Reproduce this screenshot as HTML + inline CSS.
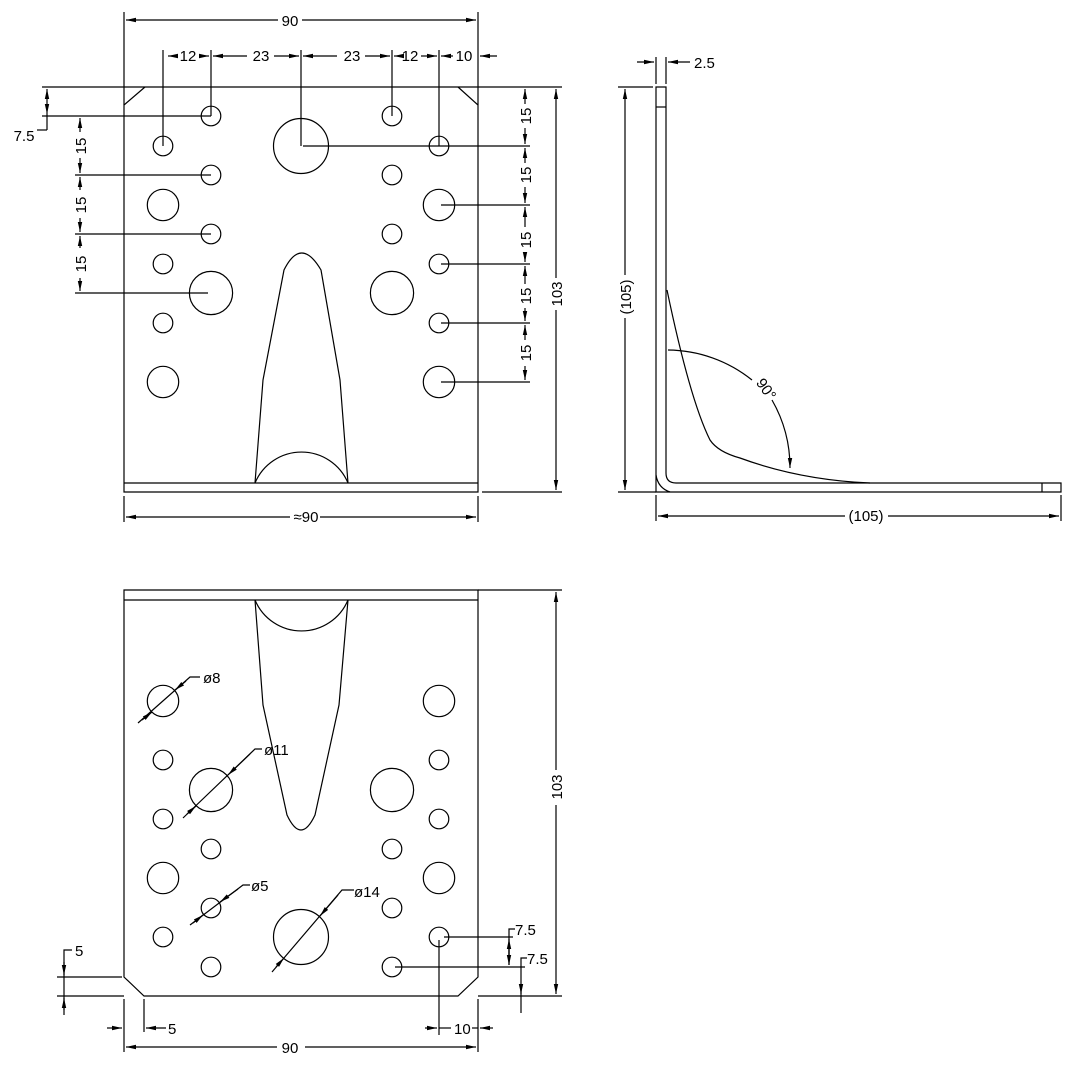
<!DOCTYPE html>
<html><head><meta charset="utf-8"><style>
html,body{margin:0;padding:0;background:#fff;}
svg{display:block;}
text{font-family:"Liberation Sans",sans-serif;font-size:15px;fill:#000;}
</style></head><body>
<svg width="1078" height="1072" viewBox="0 0 1078 1072" xmlns="http://www.w3.org/2000/svg">
<defs>
<marker id="a" viewBox="0 0 10 6" refX="10" refY="3" markerWidth="10" markerHeight="6" orient="auto-start-reverse" markerUnits="userSpaceOnUse"><path d="M0,0.8 L10,3 L0,5.2z" fill="#000"/></marker>
</defs>
<g fill="none" stroke="#000" stroke-width="1.2">
<!-- ===== TOP VIEW ===== -->
<line x1="42" y1="87" x2="562" y2="87"/>
<path d="M145,87 L124,105 V492 H478 V105 L458,87"/>
<line x1="124" y1="483" x2="478" y2="483"/>
<path d="M255,483 L263,380 L284,270 Q301,236 321,270 L340,380 L348,483"/>
<path d="M255,483 A50.4,50.4 0 0 1 348,483"/>
<g>
<circle cx="163" cy="146" r="9.8"/><circle cx="163" cy="205" r="15.7"/><circle cx="163" cy="264" r="9.8"/><circle cx="163" cy="323" r="9.8"/><circle cx="163" cy="382" r="15.7"/>
<circle cx="439" cy="146" r="9.8"/><circle cx="439" cy="205" r="15.7"/><circle cx="439" cy="264" r="9.8"/><circle cx="439" cy="323" r="9.8"/><circle cx="439" cy="382" r="15.7"/>
<circle cx="211" cy="116" r="9.8"/><circle cx="211" cy="175" r="9.8"/><circle cx="211" cy="234" r="9.8"/><circle cx="211" cy="293" r="21.6"/>
<circle cx="392" cy="116" r="9.8"/><circle cx="392" cy="175" r="9.8"/><circle cx="392" cy="234" r="9.8"/><circle cx="392" cy="293" r="21.6"/>
<circle cx="301" cy="146" r="27.5"/>
</g>
<line x1="124" y1="12" x2="124" y2="105"/><line x1="478" y1="12" x2="478" y2="105"/>
<line x1="126" y1="20" x2="278" y2="20" marker-start="url(#a)"/><line x1="302" y1="20" x2="476" y2="20" marker-end="url(#a)"/>
<line x1="163" y1="50" x2="163" y2="146"/><line x1="211" y1="50" x2="211" y2="116"/><line x1="301" y1="50" x2="301" y2="146"/><line x1="392" y1="50" x2="392" y2="116"/><line x1="439" y1="50" x2="439" y2="146"/>
<line x1="168" y1="56" x2="177" y2="56" marker-start="url(#a)"/><line x1="199" y1="56" x2="209" y2="56" marker-end="url(#a)"/>
<line x1="213" y1="56" x2="247" y2="56" marker-start="url(#a)"/><line x1="274" y1="56" x2="299" y2="56" marker-end="url(#a)"/>
<line x1="303" y1="56" x2="337" y2="56" marker-start="url(#a)"/><line x1="365" y1="56" x2="390" y2="56" marker-end="url(#a)"/>
<line x1="394" y1="56" x2="400" y2="56" marker-start="url(#a)"/><line x1="421" y1="56" x2="437" y2="56" marker-end="url(#a)"/>
<line x1="441" y1="56" x2="453" y2="56" marker-start="url(#a)"/><line x1="497" y1="56" x2="480" y2="56" marker-end="url(#a)"/>
<line x1="42" y1="116" x2="211" y2="116"/>
<line x1="47" y1="89" x2="47" y2="114" marker-start="url(#a)" marker-end="url(#a)"/>
<line x1="47" y1="114" x2="47" y2="130"/><line x1="37" y1="130" x2="47" y2="130"/>
<line x1="75" y1="175" x2="211" y2="175"/><line x1="75" y1="234" x2="211" y2="234"/><line x1="75" y1="293" x2="208" y2="293"/>
<line x1="80" y1="118" x2="80" y2="132" marker-start="url(#a)"/><line x1="80" y1="158" x2="80" y2="173" marker-end="url(#a)"/>
<line x1="80" y1="177" x2="80" y2="190" marker-start="url(#a)"/><line x1="80" y1="218" x2="80" y2="232" marker-end="url(#a)"/>
<line x1="80" y1="236" x2="80" y2="248" marker-start="url(#a)"/><line x1="80" y1="278" x2="80" y2="291" marker-end="url(#a)"/>
<line x1="482" y1="492" x2="562" y2="492"/>
<line x1="303" y1="146" x2="530" y2="146"/><line x1="441" y1="205" x2="530" y2="205"/><line x1="441" y1="264" x2="530" y2="264"/><line x1="441" y1="323" x2="530" y2="323"/><line x1="441" y1="382" x2="530" y2="382"/>
<line x1="525" y1="89" x2="525" y2="104" marker-start="url(#a)"/><line x1="525" y1="128" x2="525" y2="144" marker-end="url(#a)"/>
<line x1="525" y1="148" x2="525" y2="163" marker-start="url(#a)"/><line x1="525" y1="187" x2="525" y2="203" marker-end="url(#a)"/>
<line x1="525" y1="207" x2="525" y2="227" marker-start="url(#a)"/><line x1="525" y1="252" x2="525" y2="262" marker-end="url(#a)"/>
<line x1="525" y1="266" x2="525" y2="284" marker-start="url(#a)"/><line x1="525" y1="308" x2="525" y2="321" marker-end="url(#a)"/>
<line x1="525" y1="325" x2="525" y2="340" marker-start="url(#a)"/><line x1="525" y1="366" x2="525" y2="380" marker-end="url(#a)"/>
<line x1="556" y1="89" x2="556" y2="278" marker-start="url(#a)"/><line x1="556" y1="310" x2="556" y2="490" marker-end="url(#a)"/>
<line x1="124" y1="496" x2="124" y2="522"/><line x1="478" y1="496" x2="478" y2="522"/>
<line x1="126" y1="517" x2="290" y2="517" marker-start="url(#a)"/><line x1="320" y1="517" x2="476" y2="517" marker-end="url(#a)"/>

<!-- ===== SIDE VIEW ===== -->
<path d="M656,87 H666 V473 Q666,483 676,483 H1061 V492 H656 Z"/>
<line x1="656" y1="107" x2="666" y2="107"/>
<line x1="1042" y1="483" x2="1042" y2="492"/>
<path d="M656,475 Q658,488 670,492"/>
<path d="M667,290 Q690,400 710,440 Q718,452 740,458 Q800,480 870,483"/>
<path d="M668,350 A136,136 0 0 1 752,380"/>
<path d="M772,400 A136,136 0 0 1 790,468" marker-end="url(#a)"/>
<line x1="656" y1="57" x2="656" y2="84"/><line x1="666" y1="57" x2="666" y2="84"/>
<line x1="637" y1="62" x2="654" y2="62" marker-end="url(#a)"/><line x1="690" y1="62" x2="668" y2="62" marker-end="url(#a)"/>
<line x1="618" y1="87" x2="653" y2="87"/><line x1="618" y1="492" x2="656" y2="492"/>
<line x1="625" y1="89" x2="625" y2="275" marker-start="url(#a)"/><line x1="625" y1="318" x2="625" y2="490" marker-end="url(#a)"/>
<line x1="656" y1="495" x2="656" y2="521"/><line x1="1061" y1="495" x2="1061" y2="521"/>
<line x1="658" y1="516" x2="845" y2="516" marker-start="url(#a)"/><line x1="888" y1="516" x2="1059" y2="516" marker-end="url(#a)"/>

<!-- ===== BOTTOM VIEW ===== -->
<path d="M124,590 H478 V977 L458,996 H144 L124,977 Z"/>
<line x1="124" y1="600" x2="478" y2="600"/>
<path d="M255,600 L263,705 L287,815 Q301,845 315,815 L339,705 L348,600"/>
<path d="M255,600 A50.4,50.4 0 0 0 348,600"/>
<g>
<circle cx="163" cy="701" r="15.7"/><circle cx="163" cy="760" r="9.8"/><circle cx="163" cy="819" r="9.8"/><circle cx="163" cy="878" r="15.7"/><circle cx="163" cy="937" r="9.8"/>
<circle cx="439" cy="701" r="15.7"/><circle cx="439" cy="760" r="9.8"/><circle cx="439" cy="819" r="9.8"/><circle cx="439" cy="878" r="15.7"/><circle cx="439" cy="937" r="9.8"/>
<circle cx="211" cy="790" r="21.6"/><circle cx="211" cy="849" r="9.8"/><circle cx="211" cy="908" r="9.8"/><circle cx="211" cy="967" r="9.8"/>
<circle cx="392" cy="790" r="21.6"/><circle cx="392" cy="849" r="9.8"/><circle cx="392" cy="908" r="9.8"/><circle cx="392" cy="967" r="9.8"/>
<circle cx="301" cy="937" r="27.5"/>
</g>
<path d="M138,723 L190,677 H200"/>
<line x1="142" y1="720" x2="152" y2="712" marker-end="url(#a)"/><line x1="186" y1="681" x2="175" y2="690" marker-end="url(#a)"/>
<path d="M183,818 L255,749 H262"/>
<line x1="187" y1="814" x2="196" y2="806" marker-end="url(#a)"/><line x1="250" y1="754" x2="228" y2="775" marker-end="url(#a)"/>
<path d="M190,925 L243,885 H250"/>
<line x1="193" y1="923" x2="203" y2="915" marker-end="url(#a)"/><line x1="238" y1="889" x2="220" y2="902" marker-end="url(#a)"/>
<path d="M272,972 L342,890 H354"/>
<line x1="276" y1="967" x2="284" y2="958" marker-end="url(#a)"/><line x1="338" y1="895" x2="320" y2="916" marker-end="url(#a)"/>
<line x1="478" y1="590" x2="562" y2="590"/><line x1="478" y1="996" x2="562" y2="996"/>
<line x1="556" y1="592" x2="556" y2="770" marker-start="url(#a)"/><line x1="556" y1="805" x2="556" y2="994" marker-end="url(#a)"/>
<line x1="444" y1="937" x2="513" y2="937"/><line x1="395" y1="967" x2="525" y2="967"/>
<path d="M515,929 H509 V965"/><line x1="509" y1="945" x2="509" y2="965" marker-end="url(#a)"/>
<line x1="509" y1="955" x2="509" y2="939" marker-end="url(#a)"/>
<path d="M527,958 H521 V1013"/><line x1="521" y1="985" x2="521" y2="994" marker-end="url(#a)"/>
<line x1="57" y1="977" x2="122" y2="977"/><line x1="57" y1="996" x2="124" y2="996"/>
<path d="M72,950 H64 V1015"/>
<line x1="64" y1="962" x2="64" y2="975" marker-end="url(#a)"/><line x1="64" y1="1010" x2="64" y2="998" marker-end="url(#a)"/>
<line x1="124" y1="999" x2="124" y2="1052"/><line x1="478" y1="999" x2="478" y2="1052"/>
<line x1="144" y1="999" x2="144" y2="1032"/><line x1="439" y1="940" x2="439" y2="1035"/>
<line x1="107" y1="1028" x2="122" y2="1028" marker-end="url(#a)"/><line x1="166" y1="1028" x2="146" y2="1028" marker-end="url(#a)"/>
<line x1="425" y1="1028" x2="437" y2="1028" marker-end="url(#a)"/><line x1="493" y1="1028" x2="480" y2="1028" marker-end="url(#a)"/>
<line x1="439" y1="1028" x2="451" y2="1028"/><line x1="472" y1="1028" x2="478" y2="1028"/>
<line x1="126" y1="1047" x2="277" y2="1047" marker-start="url(#a)"/><line x1="305" y1="1047" x2="476" y2="1047" marker-end="url(#a)"/>
</g>
<g>
<text x="290" y="26" text-anchor="middle">90</text>
<text x="188" y="61" text-anchor="middle">12</text>
<text x="261" y="61" text-anchor="middle">23</text>
<text x="352" y="61" text-anchor="middle">23</text>
<text x="410" y="61" text-anchor="middle">12</text>
<text x="464" y="61" text-anchor="middle">10</text>
<text x="24" y="141" text-anchor="middle">7.5</text>
<text transform="translate(86,146) rotate(-90)" text-anchor="middle">15</text>
<text transform="translate(86,205) rotate(-90)" text-anchor="middle">15</text>
<text transform="translate(86,264) rotate(-90)" text-anchor="middle">15</text>
<text transform="translate(531,116) rotate(-90)" text-anchor="middle">15</text>
<text transform="translate(531,175) rotate(-90)" text-anchor="middle">15</text>
<text transform="translate(531,240) rotate(-90)" text-anchor="middle">15</text>
<text transform="translate(531,296) rotate(-90)" text-anchor="middle">15</text>
<text transform="translate(531,353) rotate(-90)" text-anchor="middle">15</text>
<text transform="translate(562,294) rotate(-90)" text-anchor="middle">103</text>
<text x="306" y="522" text-anchor="middle">≈90</text>
<text x="694" y="68">2.5</text>
<text transform="translate(631,297) rotate(-90)" text-anchor="middle">(105)</text>
<text x="866" y="521" text-anchor="middle">(105)</text>
<text transform="translate(762,392) rotate(55)" text-anchor="middle">90°</text>
<text x="203" y="683">ø8</text>
<text x="264" y="755">ø11</text>
<text x="251" y="891">ø5</text>
<text x="354" y="897">ø14</text>
<text transform="translate(562,787) rotate(-90)" text-anchor="middle">103</text>
<text x="515" y="935">7.5</text>
<text x="527" y="964">7.5</text>
<text x="75" y="956">5</text>
<text x="168" y="1034">5</text>
<text x="454" y="1034">10</text>
<text x="290" y="1053" text-anchor="middle">90</text>
</g>
</svg>
</body></html>
